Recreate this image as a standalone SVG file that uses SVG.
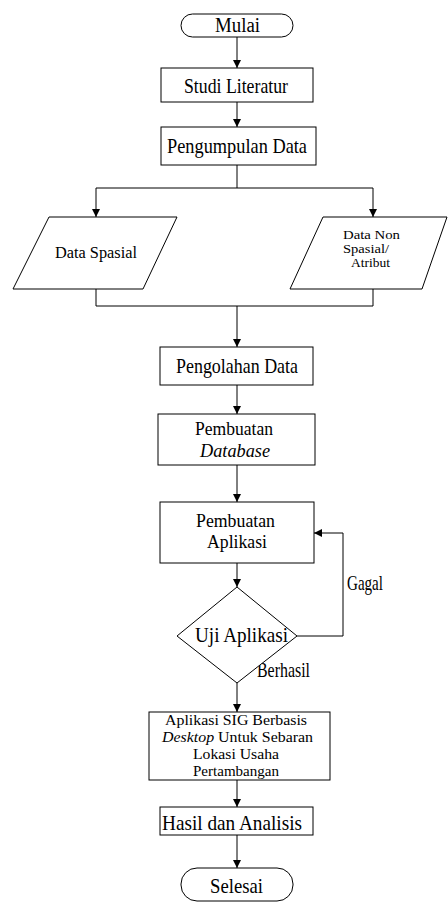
<svg xmlns="http://www.w3.org/2000/svg" width="448" height="902" viewBox="0 0 448 902">
<defs>
<marker id="ah" viewBox="0 0 8 8" refX="8" refY="4" markerWidth="8" markerHeight="8" markerUnits="userSpaceOnUse" orient="auto">
<path d="M0,0 L8,4 L0,8 Z" fill="#000"/>
</marker>
</defs>
<style>
.s{fill:#fff;stroke:#000;stroke-width:1}
.c{fill:none;stroke:#000;stroke-width:1}
text{fill:#000;text-anchor:middle}
.L{font-size:21px}
.M{font-size:20px}
.N{font-size:18.5px}
.S{font-size:16px}
.X{font-size:13px}
.Y{font-size:15px}
</style>
<rect width="448" height="902" fill="#fff"/>
<g font-family="Liberation Serif, Times New Roman, DejaVu Serif, serif">
<g id="connectors">
<path class="c" d="M237,37 V68" marker-end="url(#ah)"/>
<path class="c" d="M237,102 V127" marker-end="url(#ah)"/>
<path class="c" d="M237,165 V188 M96,188 H373"/>
<path class="c" d="M96,188 V217" marker-end="url(#ah)"/>
<path class="c" d="M373,188 V217" marker-end="url(#ah)"/>
<path class="c" d="M96,289 V306 H373 V289"/>
<path class="c" d="M237,306 V347" marker-end="url(#ah)"/>
<path class="c" d="M237,385 V414" marker-end="url(#ah)"/>
<path class="c" d="M237,465 V502" marker-end="url(#ah)"/>
<path class="c" d="M237,563 V587" marker-end="url(#ah)"/>
<path class="c" d="M297,636 H343 V533 H314" marker-end="url(#ah)"/>
<path class="c" d="M237,683 V712" marker-end="url(#ah)"/>
<path class="c" d="M237,780 V807" marker-end="url(#ah)"/>
<path class="c" d="M237,835 V868" marker-end="url(#ah)"/>
<text class="L" x="365" y="590" textLength="36" lengthAdjust="spacingAndGlyphs">Gagal</text>
<text class="L" x="283.5" y="677" textLength="53" lengthAdjust="spacingAndGlyphs">Berhasil</text>
</g>
<g id="mulai">
<rect class="s" x="181" y="14" width="112" height="23" rx="11.5"/>
<text class="M" x="237.5" y="32" textLength="45" lengthAdjust="spacingAndGlyphs">Mulai</text>
</g>
<g id="studi">
<rect class="s" x="161" y="68" width="152" height="34"/>
<text class="L" x="236" y="93" textLength="104" lengthAdjust="spacingAndGlyphs">Studi Literatur</text>
</g>
<g id="pengumpulan">
<rect class="s" x="161" y="127" width="155" height="38"/>
<text class="L" x="237" y="153" textLength="140" lengthAdjust="spacingAndGlyphs">Pengumpulan Data</text>
</g>
<g id="spasial">
<path class="s" d="M49,217 H177 L143,289 H13 Z"/>
<text class="S" x="96" y="258" textLength="82" lengthAdjust="spacingAndGlyphs">Data Spasial</text>
</g>
<g id="nonspasial">
<path class="s" d="M323,217 H447 L422,289 H290 Z"/>
<text class="X" x="371.5" y="239" textLength="57" lengthAdjust="spacingAndGlyphs">Data Non</text>
<text class="X" x="366" y="253" textLength="46" lengthAdjust="spacingAndGlyphs">Spasial/</text>
<text class="X" x="370.5" y="267" textLength="39" lengthAdjust="spacingAndGlyphs">Atribut</text>
</g>
<g id="pengolahan">
<rect class="s" x="160" y="347" width="153" height="38"/>
<text class="L" x="237" y="373" textLength="122" lengthAdjust="spacingAndGlyphs">Pengolahan Data</text>
</g>
<g id="database">
<rect class="s" x="158" y="414" width="157" height="51"/>
<text class="N" x="234" y="435" textLength="78" lengthAdjust="spacingAndGlyphs">Pembuatan</text>
<text class="N" x="235" y="457" font-style="italic" textLength="70" lengthAdjust="spacingAndGlyphs">Database</text>
</g>
<g id="aplikasi">
<rect class="s" x="160" y="502" width="154" height="61"/>
<text class="N" x="235.5" y="527" textLength="79" lengthAdjust="spacingAndGlyphs">Pembuatan</text>
<text class="N" x="237" y="548" textLength="60" lengthAdjust="spacingAndGlyphs">Aplikasi</text>
</g>
<g id="uji">
<path class="s" d="M237,587 L297,636 L237,683 L177,636 Z"/>
<text class="L" x="241.5" y="642" textLength="93" lengthAdjust="spacingAndGlyphs">Uji Aplikasi</text>
</g>
<g id="sig">
<rect class="s" x="149" y="712" width="181" height="68"/>
<text class="Y" x="236" y="725" textLength="142" lengthAdjust="spacingAndGlyphs">Aplikasi SIG Berbasis</text>
<text class="Y" x="237.5" y="742" textLength="151" lengthAdjust="spacingAndGlyphs"><tspan font-style="italic">Desktop</tspan> Untuk Sebaran</text>
<text class="Y" x="236" y="759" textLength="86" lengthAdjust="spacingAndGlyphs">Lokasi Usaha</text>
<text class="Y" x="236" y="776" textLength="86" lengthAdjust="spacingAndGlyphs">Pertambangan</text>
</g>
<g id="hasil">
<rect class="s" x="160" y="807" width="153" height="28"/>
<text class="L" x="232" y="830" textLength="140" lengthAdjust="spacingAndGlyphs">Hasil dan Analisis</text>
</g>
<g id="selesai">
<rect class="s" x="181" y="868" width="112" height="33" rx="16"/>
<text class="L" x="236.5" y="893" textLength="53" lengthAdjust="spacingAndGlyphs">Selesai</text>
</g>
</g>
</svg>
